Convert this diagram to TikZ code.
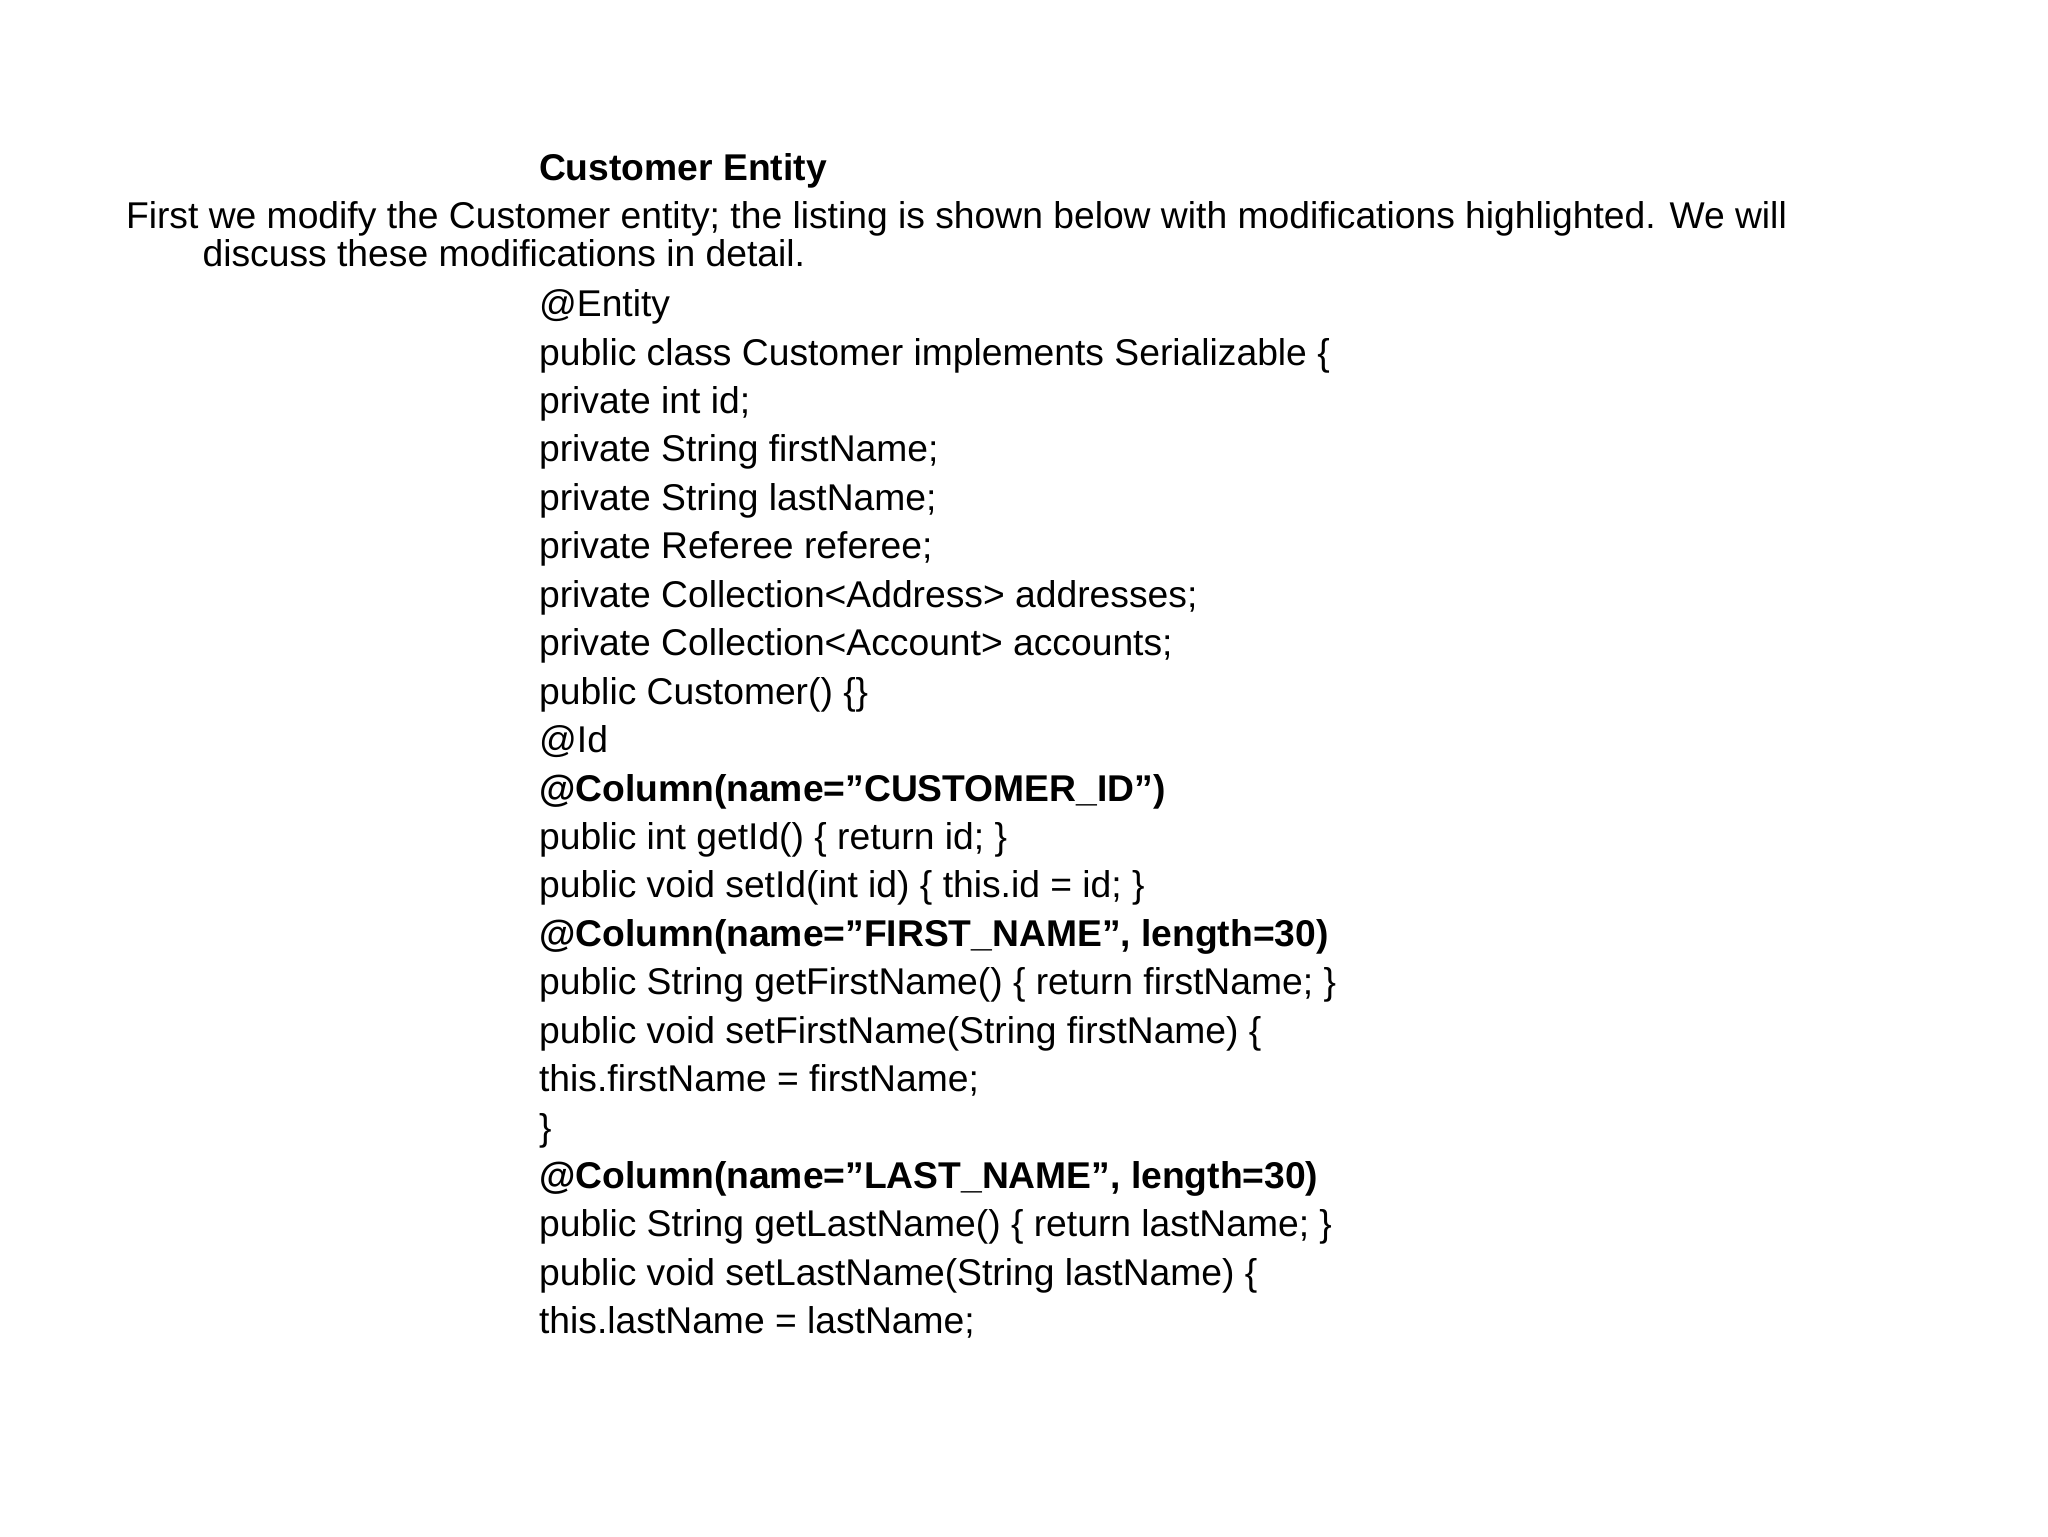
\documentclass[tikz,border=0pt]{standalone}
\usepackage{fontspec}
\setmainfont{Liberation Sans}
\begin{document}
\begin{tikzpicture}[x=0.013196cm,y=-0.013196cm,
  t/.style={anchor=base west,inner sep=0pt,font=\fontsize{10.6pt}{12pt}\selectfont}]
\useasboundingbox (0,0) rectangle (1552,1164);
\node[t,font=\fontsize{10.6pt}{12pt}\selectfont\bfseries] (title) at (408,137) {Customer Entity};
\node[t] (p1) at (95,173) {First we modify the Customer entity; the listing is shown below with modifications highlighted. We will};
\node[t] (p2) at (153,202) {discuss these modifications in detail.};
\def\L{36.7}
\node[t] (c1) at (408,240) {@Entity};
\node[t] (c2) at (408,240+1*\L) {public class Customer implements Serializable \{};
\node[t] (c3) at (408,240+2*\L) {private int id;};
\node[t] (c4) at (408,240+3*\L) {private String firstName;};
\node[t] (c5) at (408,240+4*\L) {private String lastName;};
\node[t] (c6) at (408,240+5*\L) {private Referee referee;};
\node[t] (c7) at (408,240+6*\L) {private Collection<Address> addresses;};
\node[t] (c8) at (408,240+7*\L) {private Collection<Account> accounts;};
\node[t] (c9) at (408,240+8*\L) {public Customer() \{\}};
\node[t] (c10) at (408,240+9*\L) {@Id};
\node[t] (c11) at (408,240+10*\L) {\bfseries @Column(name="CUSTOMER\_ID")};
\node[t] (c12) at (408,240+11*\L) {public int getId() \{ return id; \}};
\node[t] (c13) at (408,240+12*\L) {public void setId(int id) \{ this.id = id; \}};
\node[t] (c14) at (408,240+13*\L) {\bfseries @Column(name="FIRST\_NAME", length=30)};
\node[t] (c15) at (408,240+14*\L) {public String getFirstName() \{ return firstName; \}};
\node[t] (c16) at (408,240+15*\L) {public void setFirstName(String firstName) \{};
\node[t] (c17) at (408,240+16*\L) {this.firstName = firstName;};
\node[t] (c18) at (408,240+17*\L) {\}};
\node[t] (c19) at (408,240+18*\L) {\bfseries @Column(name="LAST\_NAME", length=30)};
\node[t] (c20) at (408,240+19*\L) {public String getLastName() \{ return lastName; \}};
\node[t] (c21) at (408,240+20*\L) {public void setLastName(String lastName) \{};
\node[t] (c22) at (408,240+21*\L) {this.lastName = lastName;};
\end{tikzpicture}
\end{document}
